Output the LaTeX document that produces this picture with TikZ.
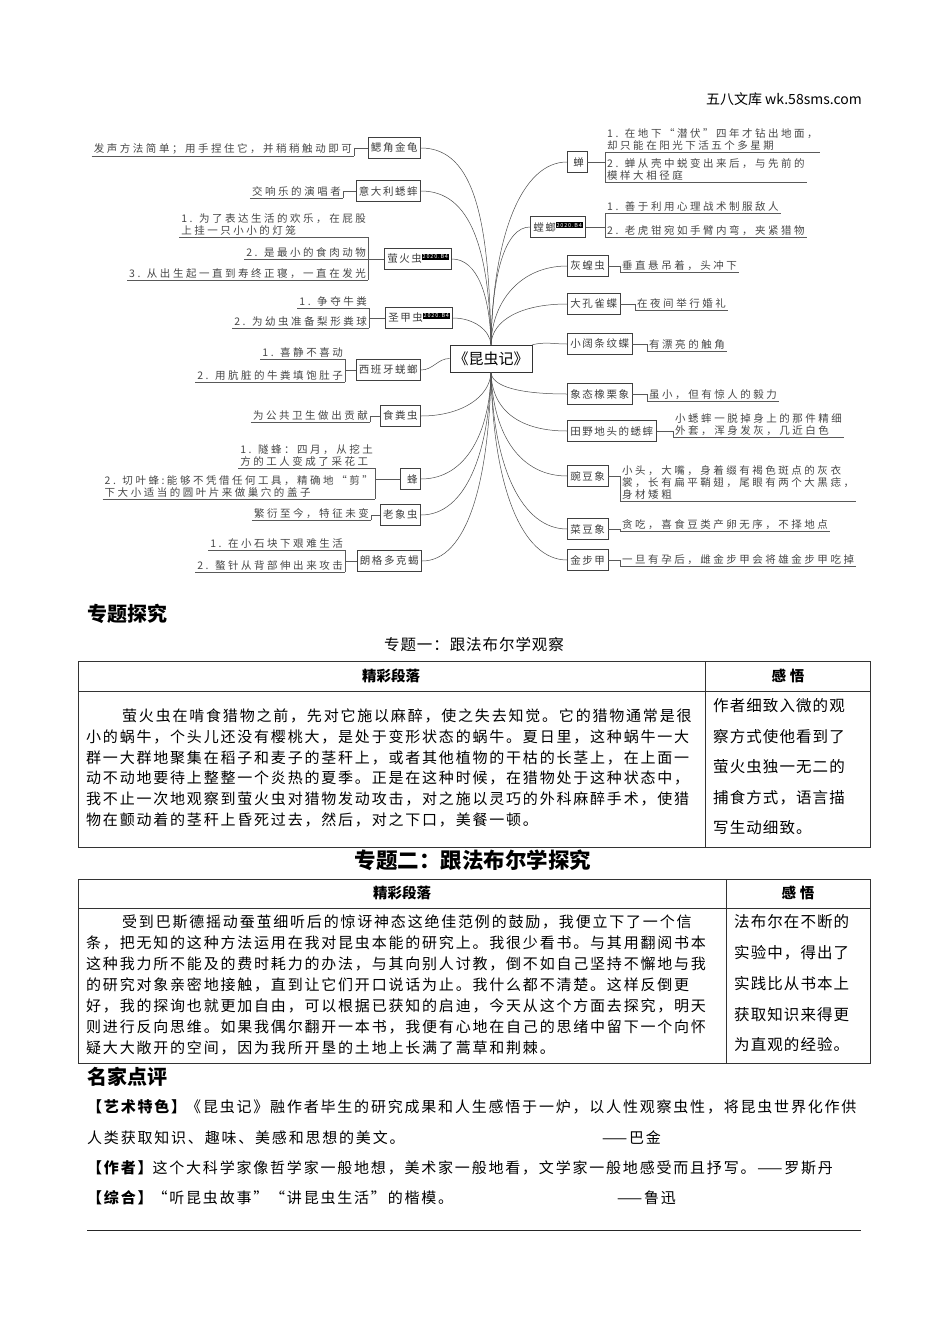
\documentclass[tikz,border=0pt]{standalone}
\usepackage{fontspec}
\setmainfont{Noto Sans CJK SC}
\newfontfamily\mmfam{Noto Sans CJK SC}[LetterSpace=24]
\newfontfamily\bxfam{Noto Sans CJK SC}[LetterSpace=15]
\newfontfamily\bodyfam{Noto Sans CJK SC}[LetterSpace=12]
\newfontfamily\sidefam{Noto Sans CJK SC}[LetterSpace=7]
\newfontfamily\subfam{Noto Sans CJK SC}[LetterSpace=6]
\usetikzlibrary{calc}
\newcommand\yearbadge{{\setlength{\fboxsep}{0.7pt}\colorbox{black}{\color{white}\fontsize{5.5}{6}\selectfont 2020.B4}}}
\newcommand\mmf{\mmfam\fontsize{10.5}{12}\selectfont}
\newcommand\bxf{\bxfam\fontsize{10.5}{12}\selectfont}
\newcommand\bodyf{\bodyfam\fontsize{15}{20}\selectfont}
\newcommand\sidef{\sidefam\fontsize{15.5}{20}\selectfont}
\newcommand\headf{\fontsize{14.5}{17}\selectfont\bfseries}
\newcommand\titlef{\fontsize{20}{24}\selectfont\bfseries}
\newcommand\titlebf{\fontsize{21.5}{24}\selectfont\bfseries}
\newcommand\hdrf{\fontsize{14}{16}\selectfont}
\newcommand\subf{\subfam\fontsize{15.5}{18}\selectfont}
\newcommand\cenf{\fontsize{15}{18}\selectfont}
\tikzset{
  mmbox/.style={draw=black!75, line width=0.6pt, inner xsep=3pt, inner ysep=2pt, minimum height=21pt, font=\bxf, text=black!75},
  lbox/.style={mmbox, anchor=east},
  rbox/.style={mmbox, anchor=west},
  mmitem/.style={inner xsep=2pt, inner ysep=1.5pt, font=\mmf, text=black!72, align=left},
  litem/.style={mmitem, anchor=south east},
  ritem/.style={mmitem, anchor=south west},
  uline/.style={draw=black!65, line width=0.6pt},
  curve/.style={draw=black!70, line width=0.5pt},
  body/.style={anchor=west, inner sep=0pt, font=\bodyf},
  side/.style={anchor=west, inner sep=0pt, font=\sidef},
  tline/.style={draw=black!80, line width=0.8pt},
}
\begin{document}
\begin{tikzpicture}[x=1pt,y=-1pt]
\fill[white] (0,0) rectangle (950,1344);
\useasboundingbox (0,0) rectangle (950,1344);

% header
\node[anchor=east, inner sep=0pt, font=\hdrf] (hdr) at (862,99) {五八文库 wk.58sms.com};

% ===== mind map =====
\node[draw=black!80, line width=0.7pt, font=\cenf, inner sep=3pt, minimum width=82pt, minimum height=27pt] (C) at (491,358.5) {《昆虫记》};

% left boxes
\node[lbox] (L1) at (421,148) {鳃角金龟};
\node[lbox] (L2) at (421,191) {意大利蟋蟀};
\node[lbox] (L3) at (452,259) {萤火虫\raisebox{4pt}{\yearbadge}};
\node[lbox] (L4) at (453,318) {圣甲虫\raisebox{4pt}{\yearbadge}};
\node[lbox] (L5) at (421,370) {西班牙蜣螂};
\node[lbox] (L6) at (421,416) {食粪虫};
\node[lbox] (L7) at (421,479) {\hspace{4pt}蜂\hspace{2pt}};
\node[lbox] (L8) at (421,515) {老象虫};
\node[lbox] (L9) at (422,561) {朗格多克蝎};

% left items
\node[litem] (L1a) at (354,156) {发声方法简单；用手捏住它，并稍稍触动即可};
\node[litem] (L2a) at (343,198) {交响乐的演唱者};
\node[litem] (L3a) at (368,237) {1. 为了表达生活的欢乐，在屁股\\上挂一只小小的灯笼};
\node[litem] (L3b) at (368,259) {2. 是最小的食肉动物};
\node[litem] (L3c) at (368,280) {3. 从出生起一直到寿终正寝，一直在发光};
\node[litem] (L4a) at (369,308) {1. 争夺牛粪};
\node[litem] (L4b) at (369,328) {2. 为幼虫准备梨形粪球};
\node[litem] (L5a) at (345,359) {1. 喜静不喜动};
\node[litem] (L5b) at (345,382) {2. 用肮脏的牛粪填饱肚子};
\node[litem] (L6a) at (370,422) {为公共卫生做出贡献};
\node[litem] (L7a) at (375,468) {1. 隧蜂：四月，从挖土\\方的工人变成了采花工};
\node[litem] (L7b) at (375,499) {2. 切叶蜂:能够不凭借任何工具，精确地“剪”\\下大小适当的圆叶片来做巢穴的盖子};
\node[litem] (L8a) at (371,520) {繁衍至今，特征未变};
\node[litem] (L9a) at (345,550) {1. 在小石块下艰难生活};
\node[litem] (L9b) at (345,572) {2. 螯针从背部伸出来攻击};

% left underlines and brackets
\foreach \n in {L1a,L2a,L3a,L3b,L3c,L4a,L4b,L5a,L5b,L6a,L7a,L7b,L8a,L9a,L9b}
  \draw[uline] (\n.south west) -- (\n.south east);
\draw[uline] (L1.west) -| (L1a.south east);
\draw[uline] (L2.west) -| (L2a.south east);
\draw[uline] (L3a.south east) -- (L3c.south east);
\draw[uline] (L3.west) -- (L3.west -| L3a.south east);
\draw[uline] (L4a.south east) -- (L4b.south east);
\draw[uline] (L4.west) -- (L4.west -| L4a.south east);
\draw[uline] (L5a.south east) -- (L5b.south east);
\draw[uline] (L5.west) -- (L5.west -| L5a.south east);
\draw[uline] (L6.west) -| (L6a.south east);
\draw[uline] (L7a.south east) -- (L7b.south east);
\draw[uline] (L7.west) -- (L7.west -| L7a.south east);
\draw[uline] (L8.west) -| (L8a.south east);
\draw[uline] (L9a.south east) -- (L9b.south east);
\draw[uline] (L9.west) -- (L9.west -| L9a.south east);

% right boxes
\node[rbox] (R1) at (567,162) {\hspace{3pt}蝉\hspace{1pt}};
\node[rbox] (R2) at (530,227) {螳螂\raisebox{4pt}{\yearbadge}};
\node[rbox] (R3) at (567,266) {灰蝗虫};
\node[rbox] (R4) at (567,304) {大孔雀蝶};
\node[rbox] (R5) at (567,344) {小阔条纹蝶};
\node[rbox] (R6) at (567,394) {象态橡栗象};
\node[rbox] (R7) at (567,431) {田野地头的蟋蟀};
\node[rbox] (R8) at (567,476) {豌豆象};
\node[rbox] (R9) at (567,529) {菜豆象};
\node[rbox] (R10) at (567,560) {金步甲};

% right items
\node[ritem] (R1a) at (605,152) {1. 在地下“潜伏”四年才钻出地面，\\却只能在阳光下活五个多星期};
\node[ritem] (R1b) at (605,182) {2. 蝉从壳中蜕变出来后，与先前的\\模样大相径庭};
\node[ritem] (R2a) at (605,213) {1. 善于利用心理战术制服敌人};
\node[ritem] (R2b) at (605,237) {2. 老虎钳宛如手臂内弯，夹紧猎物};
\node[ritem] (R3a) at (620,272) {垂直悬吊着，头冲下};
\node[ritem] (R4a) at (635,310) {在夜间举行婚礼};
\node[ritem] (R5a) at (647,351) {有漂亮的触角};
\node[ritem] (R6a) at (647,401) {虽小，但有惊人的毅力};
\node[ritem] (R7a) at (673,437) {小蟋蟀一脱掉身上的那件精细\\外套，浑身发灰，几近白色};
\node[ritem] (R8a) at (620,501) {小头，大嘴，身着缀有褐色斑点的灰衣\\裳，长有扁平鞘翅，尾眼有两个大黑痣，\\身材矮粗};
\node[ritem] (R9a) at (620,531) {贪吃，喜食豆类产卵无序，不择地点};
\node[ritem] (R10a) at (620,566) {一旦有孕后，雌金步甲会将雄金步甲吃掉};

\foreach \n in {R1a,R1b,R2a,R2b,R3a,R4a,R5a,R6a,R7a,R8a,R9a,R10a}
  \draw[uline] (\n.south west) -- (\n.south east);
\draw[uline] (R1a.south west) -- (R1b.south west);
\draw[uline] (R1.east) -- (R1.east -| R1a.south west);
\draw[uline] (R2a.south west) -- (R2b.south west);
\draw[uline] (R2.east) -- (R2.east -| R2a.south west);
\draw[uline] (R3.east) -| (R3a.south west);
\draw[uline] (R4.east) -| (R4a.south west);
\draw[uline] (R5.east) -| (R5a.south west);
\draw[uline] (R6.east) -| (R6a.south west);
\draw[uline] (R7.east) -| (R7a.south west);
\draw[uline] (R8.east) -| (R8a.south west);
\draw[uline] (R9.east) -| (R9a.south west);
\draw[uline] (R10.east) -| (R10a.south west);

% curves to left
\draw[curve] (C.north) .. controls +(-2,-120) and +(55,0) .. (L1.east);
\draw[curve] (C.north) .. controls +(-2,-95) and +(50,0) .. (L2.east);
\draw[curve] (C.north) .. controls +(-1,-50) and +(25,0) .. (L3.east);
\draw[curve] (C.north) .. controls +(-1,-15) and +(20,0) .. (L4.east);
\draw[curve] (C.west) .. controls +(-12,0) and +(12,0) .. (L5.east);
\draw[curve] (C.south) .. controls +(-1,25) and +(40,0) .. (L6.east);
\draw[curve] (C.south) .. controls +(-1,60) and +(45,0) .. (L7.east);
\draw[curve] (C.south) .. controls +(-2,80) and +(45,0) .. (L8.east);
\draw[curve] (C.south) .. controls +(-2,110) and +(45,0) .. (L9.east);
% curves to right
\draw[curve] (C.north) .. controls +(2,-110) and +(-45,0) .. (R1.west);
\draw[curve] (C.north) .. controls +(1,-70) and +(-25,0) .. (R2.west);
\draw[curve] (C.north) .. controls +(1,-45) and +(-45,0) .. (R3.west);
\draw[curve] (C.north) .. controls +(1,-25) and +(-45,0) .. (R4.west);
\draw[curve] (C.north east) .. controls +(15,-3) and +(-15,0) .. (R5.west);
\draw[curve] (C.south) .. controls +(1,15) and +(-45,0) .. (R6.west);
\draw[curve] (C.south) .. controls +(1,40) and +(-45,0) .. (R7.west);
\draw[curve] (C.south) .. controls +(2,65) and +(-45,0) .. (R8.west);
\draw[curve] (C.south) .. controls +(2,95) and +(-45,0) .. (R9.west);
\draw[curve] (C.south) .. controls +(2,115) and +(-45,0) .. (R10.west);

% ===== 专题探究 =====
\node[anchor=west, inner sep=0pt, font=\titlef] (zt) at (87,614) {专题探究};
\node[inner sep=0pt, font=\subf] (zt1) at (474,645) {专题一：跟法布尔学观察};

% table 1
\draw[tline] (78,661) rectangle (870,847);
\draw[tline] (78,691) -- (870,691);
\draw[tline] (705,661) -- (705,847);
\node[inner sep=0pt, font=\headf] (t1h1) at (391,676) {精彩段落};
\node[inner sep=0pt, font=\headf] (t1h2) at (788,676) {感\hspace{4pt}悟};
\node[body] (t1a) at (122,716) {萤火虫在啃食猎物之前，先对它施以麻醉，使之失去知觉。它的猎物通常是很};
\node[body] (t1b) at (86,736.8) {小的蜗牛，个头儿还没有樱桃大，是处于变形状态的蜗牛。夏日里，这种蜗牛一大};
\node[body] (t1c) at (86,757.6) {群一大群地聚集在稻子和麦子的茎秆上，或者其他植物的干枯的长茎上，在上面一};
\node[body] (t1d) at (86,778.4) {动不动地要待上整整一个炎热的夏季。正是在这种时候，在猎物处于这种状态中，};
\node[body] (t1e) at (86,799.2) {我不止一次地观察到萤火虫对猎物发动攻击，对之施以灵巧的外科麻醉手术，使猎};
\node[body] (t1f) at (86,820) {物在颤动着的茎秆上昏死过去，然后，对之下口，美餐一顿。};
\node[side] (s1a) at (713,706) {作者细致入微的观};
\node[side] (s1b) at (713,737) {察方式使他看到了};
\node[side] (s1c) at (713,767) {萤火虫独一无二的};
\node[side] (s1d) at (713,798) {捕食方式，语言描};
\node[side] (s1e) at (713,828) {写生动细致。};

% ===== 专题二 =====
\node[inner sep=0pt, font=\titlebf] (zt2) at (473,860) {专题二：跟法布尔学探究};
\draw[tline] (78,879) rectangle (870,1063);
\draw[tline] (78,908) -- (870,908);
\draw[tline] (726,879) -- (726,1063);
\node[inner sep=0pt, font=\headf] (t2h1) at (402,893) {精彩段落};
\node[inner sep=0pt, font=\headf] (t2h2) at (798,893) {感\hspace{4pt}悟};
\node[body] (t2a) at (122,922) {受到巴斯德摇动蚕茧细听后的惊讶神态这绝佳范例的鼓励，我便立下了一个信};
\node[body] (t2b) at (86,943) {条，把无知的这种方法运用在我对昆虫本能的研究上。我很少看书。与其用翻阅书本};
\node[body] (t2c) at (86,964) {这种我力所不能及的费时耗力的办法，与其向别人讨教，倒不如自己坚持不懈地与我};
\node[body] (t2d) at (86,985) {的研究对象亲密地接触，直到让它们开口说话为止。我什么都不清楚。这样反倒更};
\node[body] (t2e) at (86,1006) {好，我的探询也就更加自由，可以根据已获知的启迪，今天从这个方面去探究，明天};
\node[body] (t2f) at (86,1027) {则进行反向思维。如果我偶尔翻开一本书，我便有心地在自己的思绪中留下一个向怀};
\node[body] (t2g) at (86,1048) {疑大大敞开的空间，因为我所开垦的土地上长满了蒿草和荆棘。};
\node[side] (s2a) at (734,922) {法布尔在不断的};
\node[side] (s2b) at (734,953) {实验中，得出了};
\node[side] (s2c) at (734,984) {实践比从书本上};
\node[side] (s2d) at (734,1015) {获取知识来得更};
\node[side] (s2e) at (734,1045) {为直观的经验。};

% ===== 名家点评 =====
\node[anchor=west, inner sep=0pt, font=\titlef] (mj) at (87,1077) {名家点评};
\node[body] (m1) at (87,1107) {{\bfseries 【艺术特色】}《昆虫记》融作者毕生的研究成果和人生感悟于一炉，以人性观察虫性，将昆虫世界化作供};
\node[body] (m2) at (87,1138) {人类获取知识、趣味、美感和思想的美文。};
\node[body] (m2b) at (602,1138) {——巴金};
\node[body] (m3) at (87,1168) {{\bfseries 【作者】}这个大科学家像哲学家一般地想，美术家一般地看，文学家一般地感受而且抒写。——罗斯丹};
\node[body] (m4) at (87,1198) {{\bfseries 【综合】}“听昆虫故事”“讲昆虫生活”的楷模。};
\node[body] (m4b) at (617,1198) {——鲁迅};
\draw[black!85, line width=1pt] (87,1230) -- (861,1230);
\end{tikzpicture}
\end{document}
